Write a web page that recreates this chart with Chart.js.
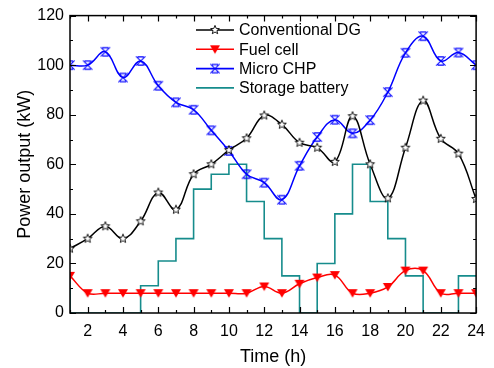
<!DOCTYPE html>
<html><head><meta charset="utf-8">
<script src="https://cdn.jsdelivr.net/npm/chart.js@4"></script>
<style>html,body{margin:0;padding:0;background:#fff}</style>
</head><body>
<canvas id="c" width="494" height="368"></canvas>
<script>
const hours = [1,2,3,4,5,6,7,8,9,10,11,12,13,14,15,16,17,18,19,20,21,22,23,24];
const conventionalDG = [26,30,35,30,37,48.6,41.7,56,60,65.7,70.5,79.7,76,68.7,66.7,61,79.4,60,46.3,66.7,85.7,70.3,64.3,46];
const fuelCell = [15,8,8,8,8,8,8,8,8,8,8,10.7,8,11.8,14.3,15.3,8,8,10.5,17.1,17.1,8,8,8];
const microCHP = [100,100,105.4,95,101.7,91.7,85,82,73.7,65.4,56,52.6,45.7,59.4,71,78,72.5,77.8,89.1,105,111.7,101.7,105.1,100];
const storageHours = [0,1,2,3,4,5,6,7,8,9,10,11,12,13,14,15,16,17,18,19,20,21,22,23,24];
const storageBattery = [15,0,0,0,0,11,21,30,50,56,60,45,30,15,0,20,40,60,45,30,15,0,0,15,15];
const seriesNames = ['Conventional DG','Fuel cell','Micro CHP','Storage battery'];
const xTickValues = [2,4,6,8,10,12,14,16,18,20,22,24];
const yTickValues = [0,20,40,60,80,100,120];

const FONT = '"Liberation Sans", Arial, sans-serif';
const TEAL = '#168c8c';

function makeMarker(kind, color) {
  const s = 14;
  const cv = document.createElement('canvas');
  cv.width = s; cv.height = s;
  const g = cv.getContext('2d');
  g.translate(s/2, s/2);
  g.strokeStyle = color;
  g.fillStyle = color;
  if (kind === 'star') {
    g.lineWidth = 0.9;
    g.beginPath();
    for (let i = 0; i < 10; i++) {
      const r = i % 2 === 0 ? 4.6 : 2.0;
      const a = -Math.PI/2 + i*Math.PI/5;
      const px = r*Math.cos(a), py = r*Math.sin(a);
      if (i===0) g.moveTo(px,py); else g.lineTo(px,py);
    }
    g.closePath();
    g.fillStyle = '#fff';
    g.fill();
    g.stroke();
  } else if (kind === 'tri') {
    g.beginPath();
    g.moveTo(-5, -4); g.lineTo(5, -4); g.lineTo(0, 4.5); g.closePath();
    g.fill();
  } else if (kind === 'xbar') {
    g.lineWidth = 1.1;
    const r = 4.6, b = 3;
    g.beginPath();
    g.moveTo(-r,-r); g.lineTo(r,r);
    g.moveTo(r,-r); g.lineTo(-r,r);
    g.moveTo(-b,-r+0.5); g.lineTo(b,-r+0.5);
    g.moveTo(-b,r-0.5); g.lineTo(b,r-0.5);
    g.stroke();
  }
  return cv;
}
const mStar = makeMarker('star','#000');
const mTri = makeMarker('tri','#ff0000');
const mX = makeMarker('xbar','#0000ff');

const toXY = (xs, ys) => xs.map((x,i)=>({x:x, y:ys[i]}));

const framePlugin = {
  id: 'frame',
  afterDraw(chart) {
    const {ctx, chartArea:a, scales:{x, y}} = chart;
    ctx.save();
    ctx.strokeStyle = '#000';
    ctx.lineWidth = 1.5;
    ctx.strokeRect(a.left, a.top, a.right-a.left, a.bottom-a.top);
    ctx.lineWidth = 1.2;
    ctx.beginPath();
    for (let v = 1; v <= 24; v++) {
      const px = Math.round(x.getPixelForValue(v)) + 0.5;
      const len = v % 2 === 0 ? 6 : 3;
      ctx.moveTo(px, a.bottom); ctx.lineTo(px, a.bottom - len);
      ctx.moveTo(px, a.top); ctx.lineTo(px, a.top + len);
    }
    for (let v = 0; v <= 120; v += 10) {
      const py = Math.round(y.getPixelForValue(v)) + 0.5;
      const len = v % 20 === 0 ? 6 : 3;
      ctx.moveTo(a.left, py); ctx.lineTo(a.left + len, py);
      ctx.moveTo(a.right, py); ctx.lineTo(a.right - len, py);
    }
    ctx.stroke();

    const items = [
      {c:'#000', m:mStar},
      {c:'#ff0000', m:mTri},
      {c:'#0000ff', m:mX},
      {c:TEAL, m:null}
    ];
    const lx0 = 196, lx1 = 234, ty0 = 30, dy = 19.3;
    ctx.font = '16px ' + FONT;
    ctx.textBaseline = 'middle';
    items.forEach((it, i) => {
      const yy = ty0 + i*dy;
      ctx.strokeStyle = it.c;
      ctx.lineWidth = 1.6;
      ctx.beginPath(); ctx.moveTo(lx0, yy); ctx.lineTo(lx1, yy); ctx.stroke();
      if (it.m) ctx.drawImage(it.m, (lx0+lx1)/2 - it.m.width/2, yy - it.m.height/2);
      ctx.fillStyle = '#000';
      ctx.fillText(seriesNames[i], 239, yy + 1);
    });
    ctx.restore();
  }
};

new Chart(document.getElementById('c'), {
  type: 'line',
  data: {
    datasets: [
      {label: seriesNames[0], data: toXY(hours, conventionalDG), borderColor:'#000', borderWidth:1.5,
       tension:0.4, pointStyle:mStar, pointRadius:5, fill:false},
      {label: seriesNames[1], data: toXY(hours, fuelCell), borderColor:'#ff0000', borderWidth:1.5,
       tension:0.4, pointStyle:mTri, pointRadius:5, fill:false},
      {label: seriesNames[2], data: toXY(hours, microCHP), borderColor:'#0000ff', borderWidth:1.5,
       tension:0.4, pointStyle:mX, pointRadius:5, fill:false},
      {label: seriesNames[3], data: toXY(storageHours, storageBattery), borderColor:TEAL, borderWidth:1.6,
       stepped:true, pointRadius:0, fill:false}
    ]
  },
  options: {
    responsive:false, animation:false, devicePixelRatio:1,
    layout:{padding:{left:0, right:10, top:13, bottom:0}},
    plugins:{legend:{display:false}, tooltip:{enabled:false}},
    scales:{
      x:{type:'linear', min:1, max:24,
        grid:{display:false, drawTicks:false}, border:{display:false},
        afterBuildTicks: s => { s.ticks = xTickValues.map(v=>({value:v})); },
        ticks:{autoSkip:false, maxRotation:0, padding:9, color:'#000', font:{family:FONT, size:16}},
        title:{display:true, text:'Time (h)', color:'#000', font:{family:FONT, size:18}, padding:{top:0,bottom:0}},
        afterFit: s => { s.height = 55; }
      },
      y:{min:0, max:120,
        grid:{display:false, drawTicks:false}, border:{display:false},
        afterBuildTicks: s => { s.ticks = yTickValues.map(v=>({value:v})); },
        ticks:{padding:6, color:'#000', font:{family:FONT, size:16}},
        title:{display:true, text:'Power output (kW)', color:'#000', font:{family:FONT, size:18}, padding:{top:14,bottom:0}},
        afterFit: s => { s.width = 70; }
      }
    }
  },
  plugins:[framePlugin]
});
</script>
</body></html>
